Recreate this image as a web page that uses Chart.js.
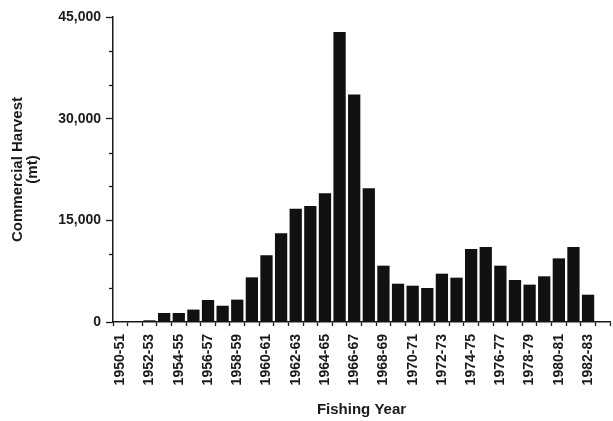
<!DOCTYPE html>
<html>
<head>
<meta charset="utf-8">
<script src="https://cdn.jsdelivr.net/npm/chart.js@4/dist/chart.umd.min.js"></script>
<style>
html,body{margin:0;padding:0;background:#fff;}
#wrap{width:613px;height:421px;}
</style>
</head>
<body>
<div id="wrap"><canvas id="c" width="613" height="421"></canvas></div>
<script>
const categories = ["1950-51","1951-52","1952-53","1953-54","1954-55","1955-56","1956-57","1957-58","1958-59","1959-60","1960-61","1961-62","1962-63","1963-64","1964-65","1965-66","1966-67","1967-68","1968-69","1969-70","1970-71","1971-72","1972-73","1973-74","1974-75","1975-76","1976-77","1977-78","1978-79","1979-80","1980-81","1981-82","1982-83",""];
const harvest = [100,120,250,1330,1330,1830,3250,2400,3300,6590,9830,13080,16720,17100,18980,42780,33580,19720,8310,5650,5360,5015,7130,6540,10770,11060,8310,6195,5510,6740,9390,11060,4030,null];
const yTickLabels = [0,15000,30000,45000];

const ink = '#1a1a1a';
const minorTicks = {
  id:'minorTicks',
  afterDraw(chart){
    const y = chart.scales.y; const ctx = chart.ctx;
    ctx.save(); ctx.strokeStyle = ink; ctx.lineWidth = 1.3;
    y.ticks.forEach(t=>{
      if (yTickLabels.includes(t.value)) return;
      const py = Math.round(y.getPixelForValue(t.value))+0.5;
      ctx.beginPath(); ctx.moveTo(y.right-4,py); ctx.lineTo(y.right,py); ctx.stroke();
    });
    ctx.restore();
  }
};

new Chart(document.getElementById('c'),{
  type:'bar',
  data:{labels:categories,datasets:[{data:harvest,backgroundColor:'#111',borderWidth:0,categoryPercentage:1,barPercentage:0.84}]},
  options:{
    responsive:false,animation:false,
    layout:{padding:{top:17,right:3,left:0,bottom:0}},
    plugins:{legend:{display:false},tooltip:{enabled:false}},
    scales:{
      x:{
        afterFit(s){s.height=99; s.paddingRight=0; s.paddingLeft=0;},
        grid:{drawOnChartArea:false,tickLength:4,tickColor:ink,tickWidth:1.3,offset:true},
        border:{color:ink,width:1.5},
        ticks:{autoSkip:false,maxRotation:90,minRotation:90,padding:8,color:ink,
          font:{family:'Liberation Sans, Arial',size:14,weight:'bold'},
          callback(v,i){return i%2===0?categories[i]:'';}},
        title:{display:true,text:'Fishing Year',color:ink,padding:{top:0,bottom:2},
          font:{family:'Liberation Sans, Arial',size:15,weight:'bold'}}
      },
      y:{
        min:0,max:45000,
        afterFit(s){s.width=113;},
        grid:{drawOnChartArea:false,tickLength:7,tickWidth:1.3,
          tickColor(c){return yTickLabels.includes(c.tick.value)?ink:'rgba(0,0,0,0)';}},
        border:{color:ink,width:1.5},
        ticks:{stepSize:5000,padding:5,color:ink,
          font:{family:'Liberation Sans, Arial',size:14,weight:'bold'},
          callback(v){return yTickLabels.includes(v)?v.toLocaleString('en-US'):'';}},
        title:{display:true,text:['Commercial Harvest','(mt)'],color:ink,padding:{top:10},
          font:{family:'Liberation Sans, Arial',size:15,weight:'bold',lineHeight:1.0}}
      }
    }
  },
  plugins:[minorTicks]
});
</script>
</body>
</html>
